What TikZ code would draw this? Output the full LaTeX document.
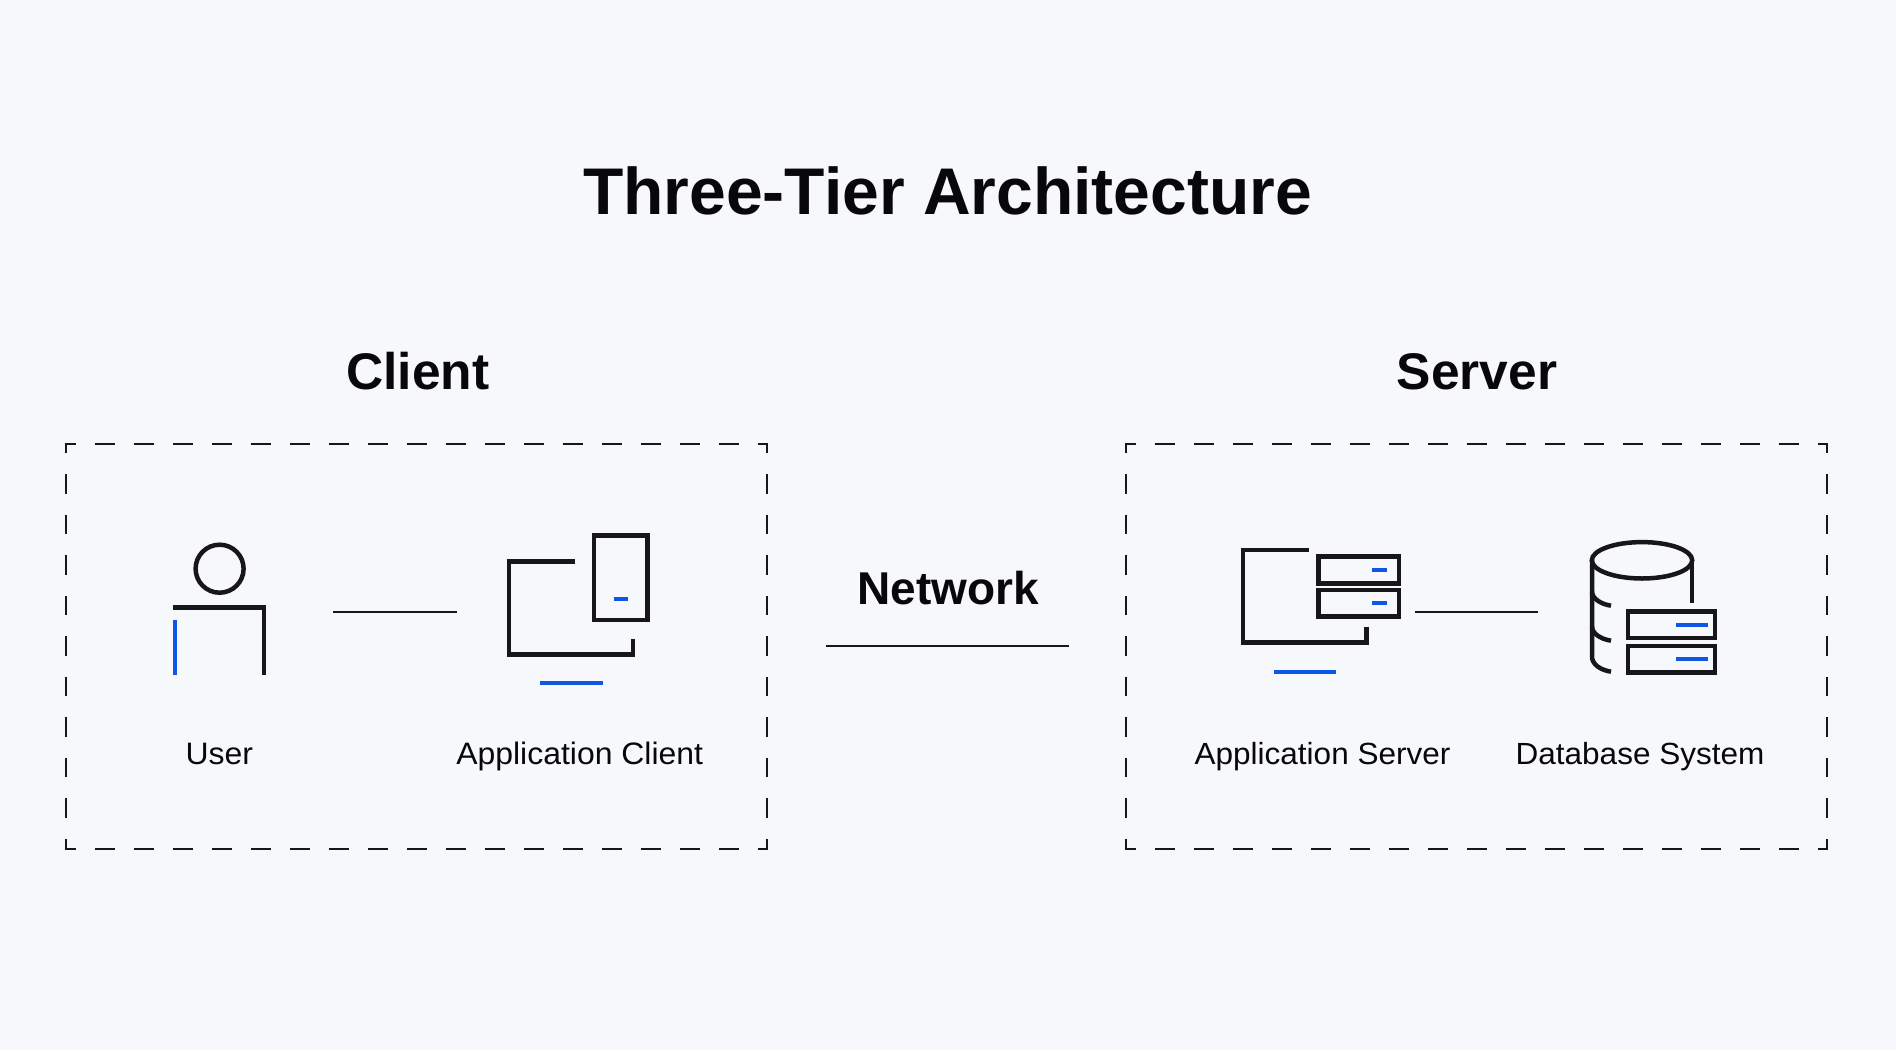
\documentclass[tikz,border=0pt]{standalone}
\usepackage{fontspec}
\setmainfont{Liberation Sans}
\newfontfamily\labelfont[FakeStretch=1.03]{Liberation Sans}
\definecolor{bgc}{HTML}{F7F8FC}
\definecolor{ink}{HTML}{17171B}
\definecolor{txt}{HTML}{08080C}
\definecolor{blu}{HTML}{0F55E6}
\tikzset{
  icon/.style={draw=ink,line width=4.5pt,line cap=butt,line join=miter},
  accent/.style={draw=blu,line width=4pt,line cap=butt},
  link/.style={draw=ink,line width=2.4pt},
  dashh/.style={draw=ink,line width=2.4pt,dash pattern=on 20pt off 19pt,dash phase=9pt},
  dashv/.style={draw=ink,line width=2.4pt,dash pattern=on 19.5pt off 21pt,dash phase=9pt},
  titlet/.style={anchor=base,inner sep=0pt,text=txt,font=\fontsize{66}{70}\selectfont\bfseries},
  headt/.style={anchor=base,inner sep=0pt,text=txt,font=\fontsize{51.5}{54}\selectfont\bfseries},
  nett/.style={anchor=base,inner sep=0pt,text=txt,font=\fontsize{46}{50}\selectfont\bfseries},
  labelt/.style={anchor=base,inner sep=0pt,text=txt,font=\labelfont\fontsize{31}{34}\selectfont},
  labelr/.style={anchor=base,inner sep=0pt,text=txt,font=\labelfont\fontsize{30.6}{34}\selectfont},
}
\newcommand{\dashframe}[4]{%
  \draw[dashh] (#1-1.2,#2) -- (#3+1.2,#2);
  \draw[dashh] (#1-1.2,#4) -- (#3+1.2,#4);
  \draw[dashv] (#1,#2-1.2) -- (#1,#4+1.2);
  \draw[dashv] (#3,#2-1.2) -- (#3,#4+1.2);
}
\begin{document}
\begin{tikzpicture}[x=1pt,y=-1pt]
\useasboundingbox[fill=bgc] (0,0) rectangle (1896,1050);

\node[titlet] (title) at (947.5,214.5) {Three-Tier Architecture};
\node[headt] (client) at (418,389.5) {Client};
\node[headt] (server) at (1477,389.5) {Server};
\node[nett] (network) at (948,604) {Network};

\dashframe{65.8}{444}{767}{849}
\dashframe{1125.8}{444}{1827}{849}

% user
\node[icon,circle,minimum size=48pt,inner sep=0pt] (head) at (219.6,568.7) {};
\draw[icon] (172.5,607.3) -- (264,607.3) -- (264,675);
\draw[accent] (175,620) -- (175,675);
\node[labelt] (userl) at (219.4,764) {User};

% application client
\draw[icon] (575,561.7) -- (509,561.7) -- (509,654.3) -- (632.8,654.3) -- (632.8,639);
\draw[icon] (594,535.7) rectangle (647.6,620);
\draw[accent] (613.6,599.3) -- (628,599.3);
\draw[accent] (540,683.3) -- (602.6,683.3);
\node[labelt] (clientl) at (579.7,764) {Application Client};

\coordinate (ua) at (333,612);
\coordinate (ub) at (456.7,612);
\draw[link] (ua) -- (ub);

% network
\coordinate (na) at (825.6,646);
\coordinate (nb) at (1068.7,646);
\draw[link] (na) -- (nb);

% application server
\draw[icon] (1308.6,550) -- (1243,550) -- (1243,642.7) -- (1366.5,642.7) -- (1366.5,627.3);
\draw[icon] (1318.3,556.7) rectangle (1399,583.3);
\draw[icon] (1318.3,590) rectangle (1399,616.7);
\draw[accent] (1372.2,570) -- (1386.6,570);
\draw[accent] (1372.2,603.3) -- (1386.6,603.3);
\draw[accent] (1274,671.7) -- (1336.3,671.7);
\node[labelr] (serverl) at (1322.5,764) {Application Server};

\coordinate (sa) at (1414.8,612);
\coordinate (sb) at (1538.2,612);
\draw[link] (sa) -- (sb);

% database
\draw[icon] (1642,560.3) ellipse [x radius=50.2,y radius=18.2];
\draw[icon] (1691.8,560.3) -- (1691.8,603.3);
\draw[icon] (1592,560.3) -- (1592,656.7) .. controls (1592,664) and (1600,670) .. (1611,671.7);
\draw[icon] (1592,591.7) .. controls (1592,598) and (1600,604) .. (1611,605.7);
\draw[icon] (1592,626.7) .. controls (1592,633) and (1600,639) .. (1611,640.7);
\draw[icon] (1628.2,611.7) rectangle (1715,638);
\draw[icon] (1628.2,646) rectangle (1715,672.7);
\draw[accent] (1676,625.3) -- (1708,625.3);
\draw[accent] (1676,659.3) -- (1708,659.3);
\node[labelr] (dbl) at (1640,764) {Database System};
\end{tikzpicture}
\end{document}
